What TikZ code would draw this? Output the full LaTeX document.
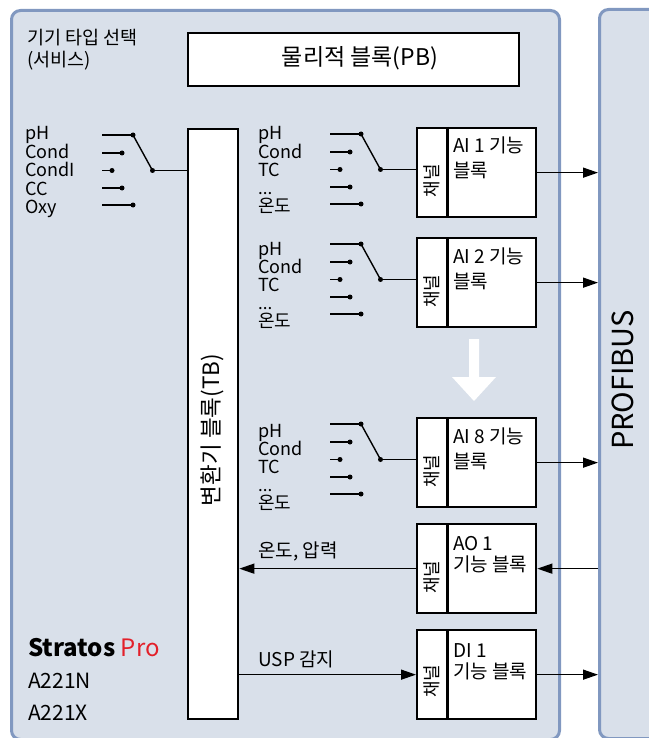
\documentclass[tikz,border=0pt]{standalone}
\usepackage{fontspec}
\setmainfont{Noto Sans CJK KR}
\usetikzlibrary{arrows.meta}
\definecolor{panelfill}{HTML}{D9E0EA}
\definecolor{panelline}{HTML}{8198C0}
\definecolor{prored}{HTML}{E3202A}
\newcommand\swgroup[3]{%
 \foreach \i/\dx/\dy in {1/31/0,2/20/18,3/10/35.5,4/20/53,5/31/70}{
   \coordinate (#1s\i) at (#2,#3+\dy);
   \node[dot] (#1d\i) at (#2+\dx,#3+\dy) {};
   \draw[wire] (#1s\i) -- (#1d\i.center);
 }
 \node[dot] (#1p) at (#2+50.5,#3+35.5) {};
 \draw[wire] (#1d1.center) -- (#1p.center);
}
\newcommand\chbox[7]{% name, top, line1, line2, base1, base2, chan offset
 \node[box, minimum width=119, minimum height=89, anchor=north west] (#1) at (416,#2) {};
 \draw[line width=2.2pt] (#1.north west) ++(31.5,0) coordinate (#1dv) -- (#1dv |- #1.south);
 \node[rotate=90, inner sep=0pt, font=\fontsize{18}{20}\selectfont] (#1ch) at (432,#2+#7) {채널};
 \node[blbl] (#1ta) at (453,#2+#5) {#3};
 \node[blbl] (#1tb) at (453,#2+#6) {#4};
}
\newcommand\chlabels[3]{% name, base y of pH, x
 \node[lbl] (#1la) at (#3,#2) {pH};
 \node[lbl] (#1lb) at (#3,#2+18.3) {Cond};
 \node[lbl] (#1lc) at (#3,#2+36.6) {TC};
 \node[lbl, font=\fontsize{17}{17}\selectfont, text height=3pt, text depth=0pt] (#1ld) at (#3,#2+54) {...};
 \node[lbl] (#1le) at (#3,#2+72) {온도};
}
\begin{document}
\begin{tikzpicture}[x=1pt,y=-1pt,
  panel/.style={draw=panelline, fill=panelfill, line width=3pt, rounded corners=9pt, inner sep=0pt},
  box/.style={draw=black, fill=white, line width=2.3pt, inner sep=0pt},
  wire/.style={line width=1.4pt},
  arr/.style={wire, -{Triangle[length=15pt,width=10pt]}},
  dot/.style={circle, fill=black, inner sep=0pt, minimum size=5pt},
  lbl/.style={anchor=base west, inner sep=0pt, font=\fontsize{18}{18}\selectfont},
  blbl/.style={anchor=base west, inner sep=0pt, font=\fontsize{19}{20}\selectfont},
]
\useasboundingbox[fill=white] (0,0) rectangle (648,738);
% panels
\node[panel, minimum width=548, minimum height=729, anchor=north west] (lp) at (10,9) {};
\node[panel, minimum width=70, minimum height=729, anchor=north west] (pf) at (598,8) {};
\node[rotate=90, font=\fontsize{29}{30}\selectfont] (pftxt) at (623,380) {PROFIBUS};
% top texts
\node[anchor=base west, inner sep=0pt, font=\fontsize{18.5}{19}\selectfont] (sel1) at (27,45) {기기 타입 선택};
\node[anchor=base west, inner sep=0pt, font=\fontsize{18.5}{19}\selectfont] (sel2) at (27,67) {(서비스)};
\node[box, minimum width=331, minimum height=53, anchor=north west] (pb) at (187,32) {};
\node[anchor=base, inner sep=0pt, font=\fontsize{23}{25}\selectfont] (pbtxt) at (360,66) {물리적 블록(PB)};
% TB
\node[box, minimum width=50, minimum height=590, anchor=north west] (tb) at (187,128) {};
\node[rotate=90, font=\fontsize{22.5}{24}\selectfont] (tbtxt) at (212,430) {변환기 블록(TB)};
% left switch
\node[lbl] (l1) at (25,140) {pH};
\node[lbl] (l2) at (25,158.3) {Cond};
\node[lbl] (l3) at (25,176.6) {CondI};
\node[lbl] (l4) at (25,195) {CC};
\node[lbl] (l5) at (25,213) {Oxy};
\swgroup{g0}{102}{135}
\draw[wire] (g0p.center) -- (g0p.center -| tb.west);
% channel boxes
\chbox{ai1}{127}{AI 1 기능}{블록}{26}{51}{54}
\chbox{ai2}{237}{AI 2 기능}{블록}{26}{51}{54}
\chbox{ai8}{417}{AI 8 기능}{블록}{26}{51}{54}
\chbox{ao1}{523}{AO 1}{기능 블록}{27}{48}{54}
\chbox{di1}{629}{DI 1}{기능 블록}{28}{49}{52}
% switches
\chlabels{c1}{140}{258}
\chlabels{c2}{255}{258}
\chlabels{c8}{437}{258}
\swgroup{g1}{330}{134}
\swgroup{g2}{330}{244}
\swgroup{g8}{330}{424}
\draw[wire] (g1p.center) -- (g1p.center -| ai1.west);
\draw[wire] (g2p.center) -- (g2p.center -| ai2.west);
\draw[wire] (g8p.center) -- (g8p.center -| ai8.west);
% outputs
\draw[arr] (ai1.east) -- (ai1.east -| pf.west);
\draw[arr] (ai2.east) -- (ai2.east -| pf.west);
\draw[arr] (ai8.east) -- (ai8.east -| pf.west);
\draw[arr] (pf.west |- ao1.east) -- (ao1.east);
\draw[arr] (di1.east) -- (di1.east -| pf.west);
\draw[arr] (ao1.west) -- (ao1.west -| tb.east);
\draw[arr] (tb.east |- di1.west) -- (di1.west);
\node[blbl] (aolbl) at (258,557) {온도, 압력};
\node[blbl] (dilbl) at (258,666) {USP 감지};
% white arrow
\fill[white] (469,339) -- (479,339) -- (479,377) -- (496,377) -- (474,401) -- (452,377) -- (469,377) -- cycle;
% product
\node[anchor=base west, inner sep=0pt, font=\fontsize{24}{25}\selectfont\bfseries] (st) at (28,656) {Stratos \textcolor{prored}{\mdseries Pro}};
\node[anchor=base west, inner sep=0pt, font=\fontsize{21}{23}\selectfont] (m1) at (28,688) {A221N};
\node[anchor=base west, inner sep=0pt, font=\fontsize{21}{23}\selectfont] (m2) at (28,720) {A221X};
\end{tikzpicture}
\end{document}
